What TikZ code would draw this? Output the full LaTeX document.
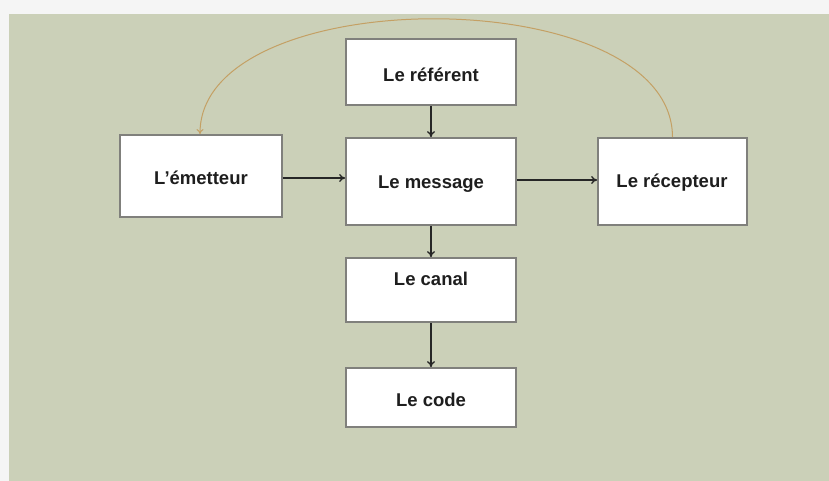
\documentclass[tikz,border=0pt]{standalone}
\usepackage{fontspec}
\setmainfont{Liberation Sans}
\usetikzlibrary{arrows.meta}
\definecolor{sage}{RGB}{203,208,184}
\definecolor{edgegray}{RGB}{128,128,124}
\definecolor{curvecol}{RGB}{196,160,100}
\definecolor{textcol}{RGB}{30,30,30}
\begin{document}
\begin{tikzpicture}[x=1pt,y=-1pt,
  box/.style={draw=edgegray, line width=1.8pt, fill=white, inner sep=0pt},
  lab/.style={font=\fontsize{18.5}{20}\selectfont\bfseries, text=textcol},
  conn/.style={draw=black!85, line width=1.3pt, -{To[length=6pt,width=8pt]}}]
\useasboundingbox (0,0) rectangle (829,481);
\fill[gray!8] (0,0) rectangle (829,481);
\fill[sage] (9,14) rectangle (829,481);
% boxes
\node[box, minimum width=170pt, minimum height=66pt] (ref) at (431,72) {};
\node[box, minimum width=170pt, minimum height=87pt] (msg) at (431,181.5) {};
\node[box, minimum width=162pt, minimum height=82pt] (em) at (201,176) {};
\node[box, minimum width=149pt, minimum height=87pt] (rec) at (672.5,181.5) {};
\node[box, minimum width=170pt, minimum height=64pt] (can) at (431,290) {};
\node[box, minimum width=170pt, minimum height=59pt] (code) at (431,397.5) {};
% labels
\node[lab] (tref) at (431,75) {Le référent};
\node[lab] (tmsg) at (431,184) {Le message};
\node[lab] (tem) at (201,178) {L’émetteur};
\node[lab] (trec) at (672,183) {Le récepteur};
\node[lab] (tcan) at (431,279) {Le canal};
\node[lab] (tcode) at (431,400) {Le code};
% connectors
\draw[conn] (ref.south) -- (msg.north);
\draw[conn] (em.east |- 0,178) coordinate (a1) -- (msg.west |- a1);
\draw[conn] (msg.east |- 0,180) coordinate (a2) -- (rec.west |- a2);
\draw[conn] (msg.south) -- (can.north);
\draw[conn] (can.south) -- (code.north);
\coordinate (cs) at (rec.north);
\coordinate (ce) at (em.north -| 200,0);
\draw[curvecol, line width=1pt, -{To[length=5pt,width=7pt]}]
  (cs) .. controls (672,-20) and (200,-20) .. (ce);
\end{tikzpicture}
\end{document}
